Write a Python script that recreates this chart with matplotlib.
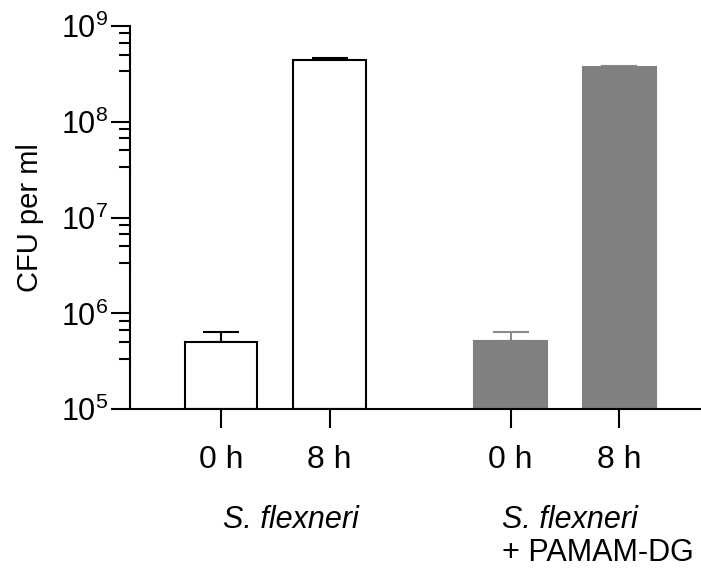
import numpy as np
import matplotlib
matplotlib.use("Agg")
import matplotlib.pyplot as plt
from matplotlib.ticker import LogLocator, FixedLocator, NullFormatter

plt.rcParams['font.family'] = ['Liberation Sans', 'DejaVu Sans']

# data
labels = ["0 h", "8 h", "0 h", "8 h"]
positions = [0, 1, 2.67, 3.67]
cfu = [5.03e5, 4.39e8, 5.19e5, 3.74e8]
err_up = [1.42e5, 0.18e8, 1.26e5, 0.06e8]
groups = ["S. flexneri", "S. flexneri", "+ PAMAM-DG"]
base = 1e5

W, H = 701, 574
fig = plt.figure(figsize=(W / 100, H / 100), dpi=100)
ax = fig.add_axes([130 / W, 1 - 409.3 / H, (700 - 130) / W, (409.3 - 25.7) / H])

face = ["white", "white", "#808080", "#808080"]
edge = ["black", "black", "#808080", "#808080"]
ecol = ["black", "black", "#8a8a8a", "#8a8a8a"]
for p, v, e, fc, ec, erc in zip(positions, cfu, err_up, face, edge, ecol):
    ax.bar(p, v - base, width=0.67, bottom=base, color=fc, edgecolor=ec,
           linewidth=1.5, zorder=2)
    ax.errorbar(p, v, yerr=[[0], [e]], fmt="none", ecolor=erc, elinewidth=1.5,
                capsize=13.3, capthick=1.5, zorder=1)

ax.set_yscale("log")
ax.set_ylim(1e5, 1e9)
ax.set_xlim(-0.839, 4.415)
ax.yaxis.set_major_locator(LogLocator(base=10, numticks=10))
minor = [m * 10.0 ** d for d in range(5, 9) for m in (10 / 3, 5, 20 / 3, 25 / 3)]
ax.yaxis.set_minor_locator(FixedLocator(minor))
ax.yaxis.set_minor_formatter(NullFormatter())

ax.set_xticks(positions)
ax.set_xticklabels(labels, fontsize=23)
ax.tick_params(axis="x", length=14, width=1.5, pad=12)
ax.tick_params(axis="y", which="major", length=14, width=1.5, labelsize=22, pad=2)
ax.tick_params(axis="y", which="minor", length=8, width=1.5)

for s in ["top", "right"]:
    ax.spines[s].set_visible(False)
for s in ["left", "bottom"]:
    ax.spines[s].set_linewidth(1.5)

ax.set_ylabel("CFU per ml", fontsize=21, labelpad=12)

fig.text(291 / W, 1 - 520 / H, groups[0], fontsize=22, style="italic", ha="center", va="center")
fig.text(502 / W, 1 - 520 / H, groups[1], fontsize=22, style="italic", ha="left", va="center")
fig.text(502 / W, 1 - 553 / H, groups[2], fontsize=22, ha="left", va="center")

fig.savefig("out.png", dpi=100)
